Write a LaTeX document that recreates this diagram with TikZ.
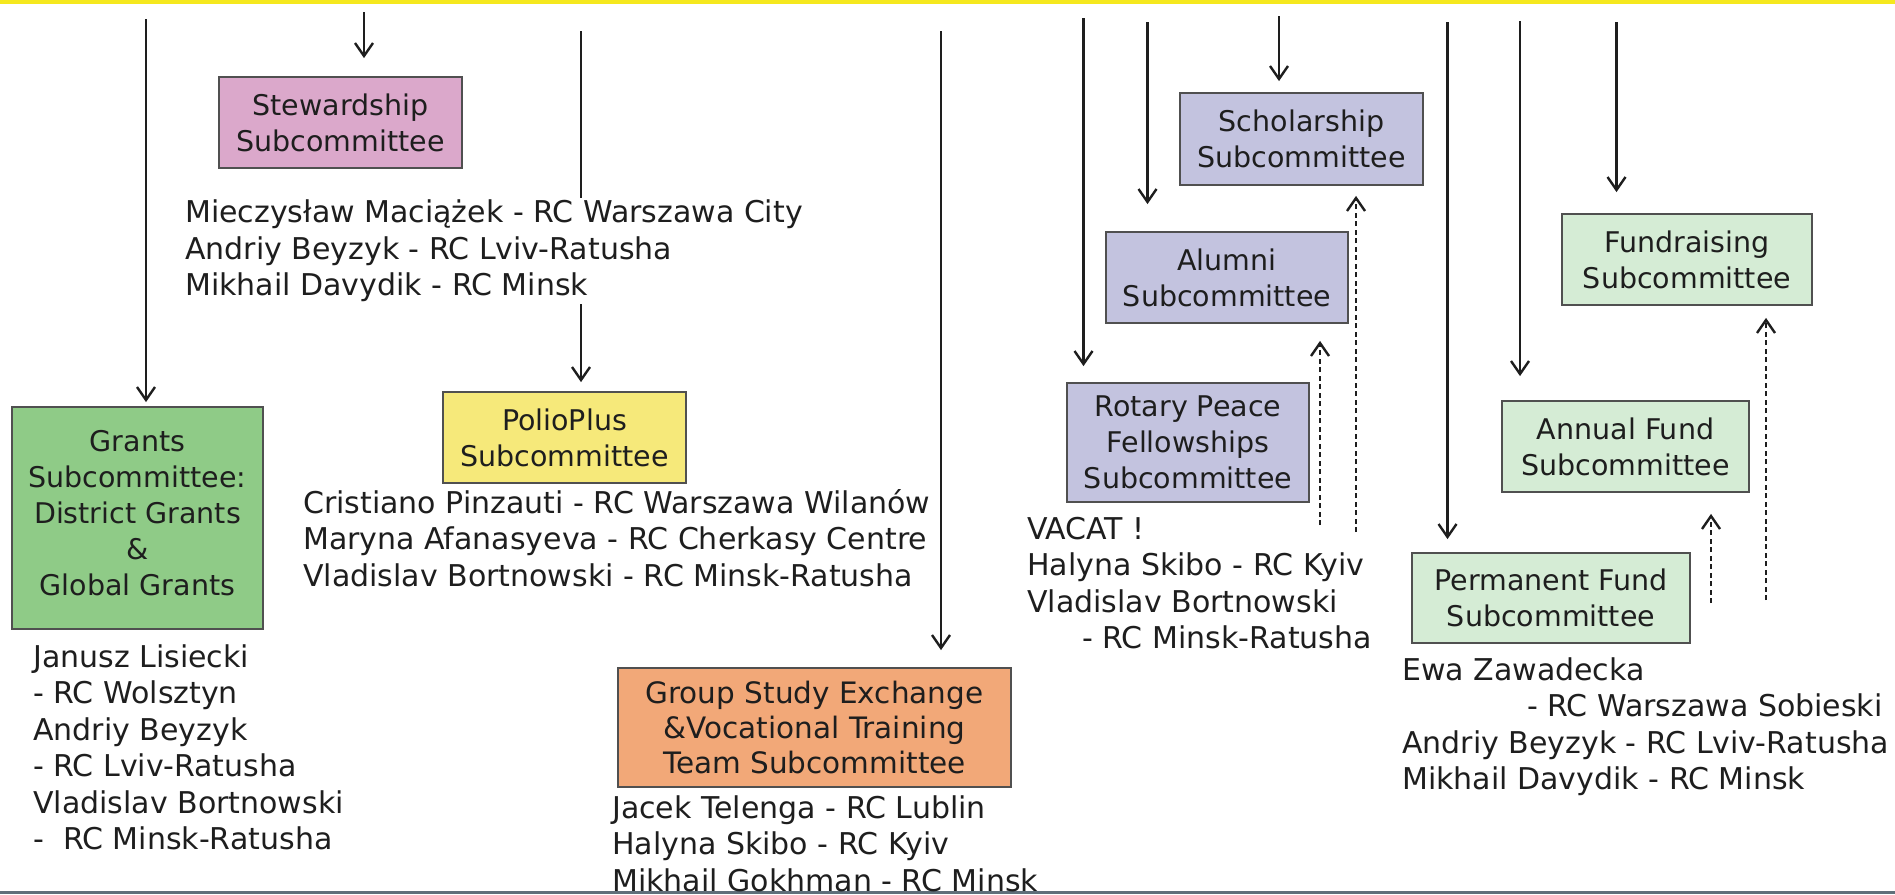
\documentclass[tikz,border=0pt]{standalone}
\usepackage{fontspec}
\setmainfont{DejaVu Sans}
\usetikzlibrary{arrows.meta}
\pgfdeclarelayer{bg}
\pgfsetlayers{bg,main}
\definecolor{pinkbox}{RGB}{219,168,203}
\definecolor{grantgreen}{RGB}{143,203,135}
\definecolor{polioyellow}{RGB}{246,233,122}
\definecolor{gseorange}{RGB}{242,168,120}
\definecolor{lavender}{RGB}{195,195,223}
\definecolor{lightgreen}{RGB}{213,236,213}
\definecolor{boxline}{RGB}{80,80,80}
\definecolor{txt}{RGB}{30,30,30}
\definecolor{band}{RGB}{245,232,30}
\definecolor{edgegray}{RGB}{95,111,122}
\begin{document}
\begin{tikzpicture}[x=1pt,y=-1pt,
  box/.style={draw=boxline, line width=1.8pt, inner sep=0pt, align=center, text=txt, font=\fontsize{28.5}{36}\selectfont},
  members/.style={anchor=north west, inner sep=0pt, align=left, text=txt, font=\fontsize{30}{36.5}\selectfont},
  solidarrow/.style={line width=2.4pt, draw=txt, -{Straight Barb[length=13pt,width=18pt]}},
  dasharrow/.style={line width=2.4pt, draw=txt, dash pattern=on 5pt off 3.5pt, -{Straight Barb[length=13pt,width=18pt]}},
]
\useasboundingbox (0,0) rectangle (1895,894);

% boxes
\node[box, fill=pinkbox, minimum width=243pt, minimum height=91pt] (stew) at (340.5,122.5) {Stewardship\\Subcommittee};
\node[box, fill=grantgreen, minimum width=251pt, minimum height=222pt] (grants) at (137.5,518) {Grants\\Subcommittee:\\District Grants\\\&\\Global Grants\rule[-11pt]{0pt}{0pt}};
\node[box, fill=polioyellow, minimum width=243pt, minimum height=91pt] (polio) at (564.5,437.5) {PolioPlus\\Subcommittee};
\node[box, fill=gseorange, minimum width=393pt, minimum height=119pt, font=\fontsize{29.5}{35}\selectfont] (gse) at (814.5,727.5) {Group Study Exchange\\\&Vocational Training\\Team Subcommittee};
\node[box, fill=lavender, minimum width=243pt, minimum height=92pt] (schol) at (1301.5,139) {Scholarship\\Subcommittee};
\node[box, fill=lavender, minimum width=242pt, minimum height=91pt] (alumni) at (1227,277.5) {Alumni\\Subcommittee};
\node[box, fill=lavender, minimum width=242pt, minimum height=119pt] (rotary) at (1188,442.5) {Rotary Peace\\Fellowships\\Subcommittee};
\node[box, fill=lightgreen, minimum width=250pt, minimum height=91pt] (fund) at (1687,259.5) {Fundraising\\Subcommittee};
\node[box, fill=lightgreen, minimum width=247pt, minimum height=91pt] (annual) at (1625.5,446.5) {Annual Fund\\Subcommittee};
\node[box, fill=lightgreen, minimum width=278pt, minimum height=90pt] (perm) at (1551,598) {Permanent Fund\\Subcommittee};

% member lists
\node[members, fill=white, inner xsep=6pt, inner ysep=2pt] (stewm) at (179,198) {Mieczysław Maciążek - RC Warszawa City\\Andriy Beyzyk - RC Lviv-Ratusha\\Mikhail Davydik - RC Minsk};
\node[members] (poliom) at (303,489) {Cristiano Pinzauti - RC Warszawa Wilanów\\Maryna Afanasyeva - RC Cherkasy Centre\\Vladislav Bortnowski - RC Minsk-Ratusha};
\node[members] (grantsm) at (33,644) {Janusz Lisiecki\\- RC Wolsztyn\\Andriy Beyzyk\\- RC Lviv-Ratusha\\Vladislav Bortnowski\\-\ \ RC Minsk-Ratusha};
\node[members] (gsem) at (612,795) {Jacek Telenga - RC Lublin\\Halyna Skibo - RC Kyiv\\Mikhail Gokhman - RC Minsk};
\node[members] (rotarym) at (1027,517) {VACAT !\\Halyna Skibo - RC Kyiv\\Vladislav Bortnowski\\\hspace*{55pt}- RC Minsk-Ratusha};
\node[members] (permm) at (1402,657) {Ewa Zawadecka\\\hspace*{125pt}- RC Warszawa Sobieski\\Andriy Beyzyk - RC Lviv-Ratusha\\Mikhail Davydik - RC Minsk};

% arrow start points
\coordinate (s1) at (146,19);
\coordinate (s2) at (364,12);
\coordinate (s3) at (581,31);
\coordinate (s4) at (941,31);
\coordinate (s5) at (1083.5,18);
\coordinate (s6) at (1147.5,22);
\coordinate (s7) at (1279,16);
\coordinate (s8) at (1447.5,22);
\coordinate (s9) at (1520,21);
\coordinate (s10) at (1616.5,22);
\coordinate (d1) at (1320,525);
\coordinate (d2) at (1356,532);
\coordinate (d3) at (1711,603);
\coordinate (d4) at (1766,600);

\begin{pgfonlayer}{bg}
\fill[white] (0,0) rectangle (1895,894);
\fill[band] (0,0) rectangle (1895,4);
\fill[edgegray] (0,891) rectangle (1895,894);
\draw[solidarrow, shorten >=4pt] (s1) -- (s1 |- grants.north);
\draw[solidarrow, shorten >=18pt] (s2) -- (s2 |- stew.north);
\draw[solidarrow, shorten >=9pt] (s3) -- (s3 |- polio.north);
\draw[solidarrow, shorten >=17pt] (s4) -- (s4 |- gse.north);
\draw[solidarrow, shorten >=16pt] (s5) -- (s5 |- rotary.north);
\draw[solidarrow, shorten >=27pt] (s6) -- (s6 |- alumni.north);
\draw[solidarrow, shorten >=11pt] (s7) -- (s7 |- schol.north);
\draw[solidarrow, shorten >=13pt] (s8) -- (s8 |- perm.north);
\draw[solidarrow, shorten >=24pt] (s9) -- (s9 |- annual.north);
\draw[solidarrow, shorten >=21pt] (s10) -- (s10 |- fund.north);
\draw[dasharrow, shorten >=17pt] (d1) -- (d1 |- alumni.south);
\draw[dasharrow, shorten >=10pt] (d2) -- (d2 |- schol.south);
\draw[dasharrow, shorten >=21pt] (d3) -- (d3 |- annual.south);
\draw[dasharrow, shorten >=12pt] (d4) -- (d4 |- fund.south);
\end{pgfonlayer}
\end{tikzpicture}
\end{document}
